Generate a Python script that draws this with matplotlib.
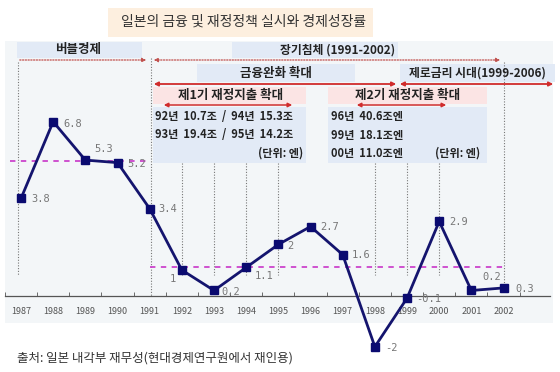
import matplotlib
matplotlib.use("Agg")
import matplotlib.pyplot as plt
from matplotlib.patches import Rectangle, FancyArrowPatch

plt.rcParams['font.family'] = ['Noto Sans CJK KR', 'DejaVu Sans']

# ---- data ----
years = [1987, 1988, 1989, 1990, 1991, 1992, 1993, 1994, 1995, 1996,
         1997, 1998, 1999, 2000, 2001, 2002]
growth = [3.8, 6.8, 5.3, 5.2, 3.4, 1.0, 0.2, 1.1, 2.0, 2.7,
          1.6, -2.0, -0.1, 2.9, 0.2, 0.3]
value_labels = ["3.8", "6.8", "5.3", "5.2", "3.4", "1", "0.2", "1.1", "2", "2.7",
                "1.6", "-2", "-0.1", "2.9", "0.2", "0.3"]
avg_bubble = 5.28      # 1987-1990 average
avg_stagnation = 1.11  # 1991-2002 average
tick_labels = [str(y) for y in years]

title = "일본의 금융 및 재정정책 실시와 경제성장률"
period_labels = ["버블경제", "장기침체 (1991-2002)"]
policy_labels = ["금융완화 확대", "제로금리 시대(1999-2006)"]
fiscal_labels = ["제1기 재정지출 확대", "제2기 재정지출 확대"]
fiscal1_lines = ["92년  10.7조  /  94년  15.3조", "93년  19.4조  /  95년  14.2조"]
fiscal2_lines = ["96년  40.6조엔", "99년  18.1조엔", "00년  11.0조엔"]
unit_label = "(단위: 엔)"
source = "출처: 일본 내각부 재무성(현대경제연구원에서 재인용)"

# label offsets (pixels) for value labels
label_offsets = [(10, -1), (10, -2), (9, 11), (10, -1), (9, 0), (-9, -9), (7, -2),
                 (9, -9), (9, -2), (10, 0), (9, 0), (10, -1), (9, -1), (10, -1),
                 (11, 13), (12, -1)]
label_ha = ['left'] * 16
label_ha[5] = 'center'

W, H = 560, 372
fig = plt.figure(figsize=(W / 100, H / 100), dpi=100)
fig.patch.set_facecolor('white')
ax = fig.add_axes([0, 0, 1, 1])
ax.patch.set_visible(False)

# pixel mapping
x0, xs = 21.0, 32.17
y0, ys = 295.6, 25.57
ax.set_xlim(1987 - x0 / xs, 1987 + (W - x0) / xs)
ax.set_ylim(-(H - y0) / ys, y0 / ys)


def P(x, y):
    return (x / W, 1 - y / H)


FT = fig.transFigure


def rect(x1, y1, x2, y2, color, z=0):
    r = Rectangle(P(x1, y2), (x2 - x1) / W, (y2 - y1) / H, transform=FT,
                  facecolor=color, edgecolor='none', zorder=z, clip_on=False)
    ax.add_patch(r)


def txt(x, y, s, size=8, weight='bold', ha='center', color='#222222'):
    ax.text(*P(x, y), s, transform=FT, fontsize=size, fontweight=weight,
            ha=ha, va='center', color=color, zorder=6)


def arrow(x1, x2, y, style, color, lw=1.2, ls='-'):
    a = FancyArrowPatch(P(x1, y), P(x2, y), transform=FT, arrowstyle=style,
                        mutation_scale=6, color=color, lw=lw, linestyle=ls,
                        zorder=5, clip_on=False)
    ax.add_patch(a)


# background panel and title
rect(5, 41, 553, 323, '#f3f6f8', z=0)
rect(108, 8, 373, 37, '#fdefdf', z=1)
txt(244, 22, title, size=10, weight='normal', color='#333333')

# period boxes
rect(17, 42, 142, 58, '#e2eaf6', z=1)
txt(78, 50, period_labels[0], size=9)
rect(232, 42, 398, 58, '#e2eaf6', z=1)
txt(338, 50, period_labels[1], size=8.5)

# dotted red arrows
red_d = '#c0504d'
arrow(17, 149, 60, '-|>', red_d, lw=0.9, ls=(0, (1, 1.2)))
arrow(151, 503, 60, '<|-|>', red_d, lw=0.9, ls=(0, (1, 1.2)))

# policy boxes
rect(197, 64, 355, 82, '#e2eaf6', z=1)
txt(276, 73, policy_labels[0], size=9)
rect(400, 64, 555, 82, '#e2eaf6', z=1)
txt(477, 73, policy_labels[1], size=8.5)

red = '#d02c2c'
arrow(151, 399, 84, '<|-|>', red, lw=1.3)
arrow(397, 556, 84, '<|-|>', red, lw=1.3)

# fiscal boxes
rect(153, 87, 306, 104, '#fbe4e4', z=1)
txt(231, 95, fiscal_labels[0], size=9)
rect(328, 87, 487, 104, '#fbe4e4', z=1)
txt(408, 95, fiscal_labels[1], size=9)
arrow(161, 295, 105, '<|-|>', red, lw=1.1)
arrow(354, 449, 105, '<|-|>', red, lw=1.1)

rect(153, 107, 306, 163, '#e2eaf6', z=1)
txt(155, 117, fiscal1_lines[0], size=8, ha='left')
txt(155, 135, fiscal1_lines[1], size=8, ha='left')
txt(303, 153, unit_label, size=8, ha='right')

rect(328, 107, 487, 163, '#e2eaf6', z=1)
for i, s in enumerate(fiscal2_lines):
    txt(331, 117 + 18 * i, s, size=8, ha='left')
txt(480, 153, unit_label, size=8, ha='right')

# vertical guide lines (data coords)
def v(py):
    return (y0 - py) / ys

guide = dict(color='#777777', lw=0.8, ls=(0, (1, 1.5)), zorder=2)
ax.vlines(1987 + (18 - x0) / xs, v(62), v(275), **guide)
ax.vlines(1987 + (151 - x0) / xs, v(58), v(296), **guide)
ax.vlines([1992, 1993, 1994, 1995, 1998, 1999, 2000], v(163), v(275), **guide)
ax.vlines(2002, v(62), v(287), **guide)

# average lines
mag = dict(color='#cc44cc', lw=1.3, ls=(0, (3, 3)), zorder=3)
ax.hlines(avg_bubble, 1987 + (10 - x0) / xs, 1991, **mag)
ax.hlines(avg_stagnation, 1991, 2002, **mag)

# main series
ax.plot(years, growth, color='#14146e', lw=2.0, marker='s', markersize=6,
        markerfacecolor='#0a0a70', markeredgecolor='#0a0a70', zorder=4)
for yr, g, lab, off, ha in zip(years, growth, value_labels, label_offsets, label_ha):
    ax.annotate(lab, (yr, g), xytext=off, textcoords='offset pixels',
                fontsize=7.5, color='#777777', ha=ha, va='center', zorder=5,
                family='DejaVu Sans Mono')

# x axis
for s in ['left', 'right', 'top']:
    ax.spines[s].set_visible(False)
ax.spines['bottom'].set_position(('data', 0))
ax.spines['bottom'].set_bounds(1986.5, 2003.45)
ax.spines['bottom'].set_color('#555555')
ax.spines['bottom'].set_linewidth(0.9)
ax.set_xticks(years)
ax.set_xticklabels(tick_labels)
ax.set_xticks([y + 0.5 for y in range(1986, 2003)], minor=True)
ax.tick_params(axis='x', which='major', length=0, pad=8, labelsize=6.5,
               labelcolor='#555555')
ax.tick_params(axis='x', which='minor', length=3, direction='in', color='#555555')
ax.set_yticks([])

txt(17, 358, source, size=9, weight='normal', ha='left', color='#333333')

fig.savefig('out.png', dpi=100)
